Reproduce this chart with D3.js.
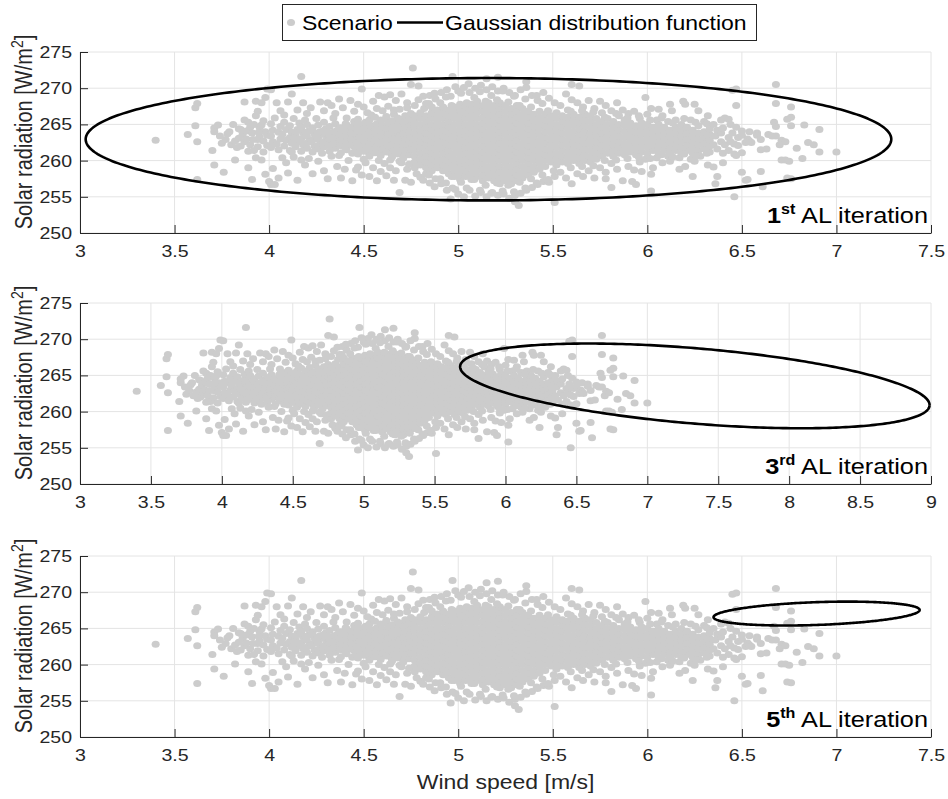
<!DOCTYPE html>
<html>
<head>
<meta charset="utf-8">
<script src="https://cdn.jsdelivr.net/npm/d3@7"></script>
<style>
  body { margin: 0; background: #fff; }
  svg { display: block; }
  text { font-family: "Liberation Sans", Arial, Helvetica, sans-serif; }
</style>
</head>
<body>
<svg id="chart" width="948" height="799"></svg>
<script>
// Scenario samples, grouped by wind speed [m/s]: [wind, [solar radiation W/m², ...]]
const scenarios = [
  [3.40,[262.8]],[3.57,[263.6]],[3.61,[267.3,264.8]],[3.62,[267.9,262.6,257.4]],
  [3.70,[261.4]],[3.71,[264.5,264.0,259.4]],[3.73,[264.9]],[3.74,[263.4]],[3.75,[262.4]],
  [3.76,[258.4]],[3.77,[262.9]],[3.78,[263.7]],[3.79,[264.0]],[3.80,[262.2]],[3.81,[265.0]],
  [3.82,[262.7,260.1]],[3.83,[261.8]],[3.84,[263.1,264.4]],[3.85,[264.3,262.0]],[3.86,[263.6]],
  [3.87,[268.1,262.6,265.6]],[3.88,[264.1,263.0]],[3.89,[265.3,261.3,259.0]],[3.90,[262.2,264.6]],
  [3.91,[257.4,263.8]],[3.92,[261.4,265.0]],[3.93,[268.2,266.2,260.4]],[3.94,[262.9,261.9,266.8]],
  [3.95,[264.6,263.3]],[3.96,[268.0,260.1,264.9]],[3.97,[265.5,262.7,261.2]],[3.98,[268.7,258.1,264.0]],
  [3.99,[262.1,263.5,269.9]],[4.00,[257.1]],[4.01,[256.7,261.8,263.4,265.1,269.8]],
  [3.915,[262.9]],[3.945,[263.9]],
  [4.02,[262.6,264.2,258.9]],[4.03,[265.9,256.7]],[4.04,[262.3,268.0]],[4.05,[261.5,263.9,257.6]],
  [4.06,[263.0,264.7,266.9]],[4.07,[263.6,260.4]],[4.08,[262.0,265.3,266.3]],[4.09,[262.8,264.3,259.7]],
  [4.10,[268.1,258.3]],[4.11,[261.4,263.2,264.8]],[4.12,[262.4,263.9,269.2,261.2]],[4.13,[265.8,260.5]],
  [4.14,[261.9,263.5]],[4.15,[262.7,264.3,267.0,257.3]],[4.16,[265.2]],[4.17,[261.3,263.0,264.6,271.6,260.1]],
  [4.18,[262.2,263.8,268.0]],[4.19,[259.4,265.6]],[4.20,[261.7,263.4,265.0,266.5]],[4.21,[262.6,264.1,260.3]],
  [4.22,[267.3]],[4.23,[261.2,262.9,264.5,258.2]],[4.24,[262.0,263.7]],[4.25,[265.8]],
  [4.26,[261.6,263.2,264.9,259.9]],[4.27,[262.4,264.0,268.1]],[4.28,[261.0]],
  [4.29,[261.9,263.6,265.3,266.9,258.6]],[4.30,[262.8,264.4]],[4.31,[268.0,257.5]],
  [4.32,[261.3,263.0,264.7]],[4.33,[262.2,263.8,267.6,260.6]],[4.34,[265.9]],
  [4.35,[261.7,263.4,265.1,266.5]],[4.36,[262.6,264.2,259.2]],[4.37,[268.5,260.7]],
  [4.38,[261.1,262.8,264.5,257.6]],[4.39,[262.0,263.6,267.3]],[4.40,[258.8]],
  [4.41,[261.5,263.2,264.9,265.9]],[4.42,[262.4,264.0,260.0]],[4.43,[268.3]],
  [4.44,[261.0,262.7,264.3,257.2]],[4.45,[261.9,263.5,265.4,266.8]],[4.46,[258.7]],
  [4.135,[263.1]],[4.165,[262.6,264.2]],
  [4.195,[262.3,263.9]],[4.225,[262.6,264.2]],[4.255,[263.0,263.8]],
  [4.285,[262.5,264.1]],[4.315,[262.1,263.7]],[4.345,[262.4,263.2,264.0]],
  [4.375,[262.1,262.9,263.7,264.5]],[4.405,[261.8,262.6,263.4,264.2,265.1]],[4.435,[262.2,263.0,263.8,264.6]],
  [4.465,[261.4,262.2,263.0,263.8,264.6]],[4.495,[261.8,262.6,263.4,264.2,265.0]],
  [4.525,[261.2,262.0,262.8,263.6,264.4,265.2]],[4.555,[261.6,262.4,263.2,264.0,264.8]],
  [4.585,[261.2,262.0,262.8,263.6,264.4,265.2]],[4.615,[261.6,262.4,263.2,264.0,264.8,265.7]],
  [4.645,[261.0,261.8,262.6,263.4,264.2,265.0]],[4.675,[261.4,262.2,263.0,263.8,264.6,265.4]],
  [4.705,[260.8,261.6,262.4,263.2,264.0,264.8,265.7]],[4.735,[261.2,262.0,262.8,263.6,264.4,265.2]],
  [4.47,[260.9,262.5,264.1,265.7,267.8,259.1]],[4.48,[261.7,263.3,264.9]],[4.49,[269.9,258.0]],
  [4.50,[261.3,262.9,264.5,267.4,260.2]],[4.51,[262.1,263.7,265.3,259.7]],[4.52,[266.6]],
  [4.53,[260.6,262.3,263.9,265.6,257.8]],[4.54,[261.5,263.1,264.7,266.3]],[4.55,[268.2,259.0]],
  [4.56,[261.1,262.7,264.3,266.0]],[4.57,[261.9,263.5,265.1,267.2,257.2]],[4.58,[269.0,260.0]],
  [4.59,[260.7,262.4,264.0,265.6,258.5]],[4.60,[261.6,263.2,264.8,266.9]],[4.61,[268.8,259.6]],
  [4.62,[261.2,262.8,264.4,266.1,257.9]],[4.63,[262.0,263.6,265.2,267.5]],[4.64,[269.1,259.0,260.1]],
  [4.65,[260.5,262.2,263.8,265.5]],[4.66,[261.4,263.0,264.6,266.4,267.0,257.3]],[4.67,[268.3,258.6]],
  [4.68,[260.9,262.6,264.2,265.9]],[4.69,[261.8,263.4,265.0,267.1,255.6,259.9]],[4.70,[269.2,259.7]],
  [4.71,[260.4,262.1,263.7,265.3]],[4.72,[261.3,262.9,264.5,266.2,257.3]],[4.73,[268.0,267.3,258.8]],
  [4.74,[260.8,262.4,264.0,265.7,259.5]],[4.75,[261.6,263.2,264.8,266.5,270.5,257.0]],[4.76,[272.8]],
  [4.77,[259.0,259.8,260.6,261.4,262.2,263.0,263.8,264.6,265.4,266.2,267.6]],[4.78,[258.2]],
  [4.79,[270.3,268.4]],
  [4.80,[259.4,260.2,261.0,261.8,262.6,263.4,264.2,265.0,265.8,266.6,257.7]],[4.82,[267.2]],
  [4.83,[259.0,259.8,260.6,261.4,262.2,263.0,263.8,264.6,265.4,266.2,267.9,258.2]],[4.85,[269.0,256.9]],
  [4.86,[258.6,259.4,260.2,261.0,261.8,262.6,263.4,264.2,265.0,265.8,266.6,267.4]],[4.88,[268.5,257.5]],
  [4.89,[259.0,259.8,260.6,261.4,262.2,263.0,263.8,264.6,265.4,266.2,267.0]],[4.91,[269.4,256.8]],
  [4.92,[258.6,259.4,260.2,261.0,261.8,262.6,263.4,264.2,265.0,265.8,266.6,267.4]],[4.94,[269.8,255.9]],
  [4.95,[258.2,259.0,259.8,260.6,261.4,262.2,263.0,263.8,264.6,265.4,266.2,267.0]],
  [4.96,[254.7,268.9]],[4.97,[271.6,256.2]],
  [4.98,[257.8,258.6,259.4,260.2,261.0,261.8,262.6,263.4,264.2,265.0,265.8,266.6,267.4]],
  [5.00,[269.6,255.4]],
  [5.01,[257.4,258.2,259.0,259.8,260.6,261.4,262.2,263.0,263.8,264.6,265.4,266.2,267.0,267.8]],
  [5.03,[270.1,255.0]],
  [5.04,[257.8,258.6,259.4,260.2,261.0,261.8,262.6,263.4,264.2,265.0,265.8,266.6,267.4]],
  [5.06,[269.4,255.9]],
  [5.07,[257.4,258.2,259.0,259.8,260.6,261.4,262.2,263.0,263.8,264.6,265.4,266.2,267.0,267.8]],
  [5.09,[270.0,255.1]],
  [5.10,[257.8,258.6,259.4,260.2,261.0,261.8,262.6,263.4,264.2,265.0,265.8,266.6,267.4,268.2]],
  [5.12,[270.4,255.6]],
  [5.13,[257.2,258.0,258.8,259.6,260.4,261.2,262.0,262.8,263.6,264.4,265.2,266.0,266.8,267.6]],
  [5.15,[269.8,255.0,271.3]],
  [5.16,[257.6,258.4,259.2,260.0,260.8,261.6,262.4,263.2,264.0,264.8,265.6,266.4,267.2,268.0]],
  [5.18,[270.2,255.6]],
  [5.19,[257.2,258.0,258.8,259.6,260.4,261.2,262.0,262.8,263.6,264.4,265.2,266.0,266.8,267.6]],
  [5.21,[271.5,269.6,255.2]],
  [5.22,[256.8,257.6,258.4,259.2,260.0,260.8,261.6,262.4,263.2,264.0,264.8,265.6,266.4,267.2,268.0]],
  [5.24,[270.0,255.4]],
  [5.25,[257.2,258.0,258.8,259.6,260.4,261.2,262.0,262.8,263.6,264.4,265.2,266.0,266.8,267.6]],
  [5.27,[269.4,254.8]],
  [5.28,[256.8,257.6,258.4,259.2,260.0,260.8,261.6,262.4,263.2,264.0,264.8,265.6,266.4,267.2]],
  [5.30,[269.0,255.2,254.3]],
  [5.31,[257.2,258.0,258.8,259.6,260.4,261.2,262.0,262.8,263.6,264.4,265.2,266.0,266.8,267.6]],
  [5.32,[253.8]],[5.33,[269.8,255.5]],
  [5.34,[257.6,258.4,259.2,260.0,260.8,261.6,262.4,263.2,264.0,264.8,265.6,266.4,267.2]],
  [5.36,[270.9,270.1,255.9]],
  [5.37,[258.0,258.8,259.6,260.4,261.2,262.0,262.8,263.6,264.4,265.2,266.0,266.8]],
  [5.39,[269.0,256.3]],
  [5.40,[258.4,259.2,260.0,260.8,261.6,262.4,263.2,264.0,264.8,265.6,266.4]],
  [5.42,[268.3,256.7]],
  [5.43,[258.8,259.6,260.4,261.2,262.0,262.8,263.6,264.4,265.2,266.0,266.8]],
  [5.45,[269.4,257.1]],
  [5.46,[259.2,260.0,260.8,261.6,262.4,263.2,264.0,264.8,265.6,266.4]],
  [5.48,[268.6,257.0]],
  [5.49,[259.8,260.6,261.4,262.2,263.0,263.8,264.6,265.4,266.2]],
  [5.51,[254.2,268.0,257.8]],
  [5.52,[259.4,260.2,261.0,261.8,262.6,263.4,264.2,265.0,265.8,266.6]],
  [5.54,[267.6,258.4]],
  [5.55,[259.8,260.6,261.4,262.2,263.0,263.8,264.6,265.4,266.2]],
  [4.815,[268.9,257.3]],[4.845,[267.9,258.0]],[4.875,[269.3,256.4]],[4.905,[268.0,257.5]],
  [4.935,[268.8,256.9]],[4.965,[267.6,257.8]],[4.985,[270.2,256.0]],[5.015,[269.3,257.0]],
  [5.045,[268.0,256.2]],[5.055,[270.6]],[5.085,[268.7,257.4]],[5.115,[269.5,255.9]],
  [5.145,[268.2,256.6]],[5.175,[269.0,255.5]],[5.205,[268.4,256.9]],[5.235,[269.6,255.8]],
  [5.265,[268.1,256.6]],[5.295,[268.9,255.7]],[5.325,[267.6,257.0]],[5.355,[268.5,256.2]],
  [5.385,[267.4,257.5]],[5.415,[269.0,256.9]],[5.445,[267.9,258.0]],[5.475,[266.9,257.4]],
  [5.505,[258.6]],
  [5.57,[269.2,257.6]],
  [5.58,[259.6,260.4,261.2,262.0,262.8,263.6,264.4,265.2,266.0,267.0]],
  [5.60,[270.5,268.4,256.8]],
  [5.61,[260.0,260.8,261.6,262.4,263.2,264.0,264.8,265.6,266.4]],
  [5.63,[268.0,258.2]],
  [5.64,[270.3,259.6,260.4,261.2,262.0,262.8,263.6,264.4,265.2,266.0]],
  [5.66,[267.4,257.8]],
  [5.67,[260.0,260.8,261.6,262.4,263.2,264.0,264.8,265.6,266.4]],
  [5.69,[268.3,258.6]],
  [5.70,[259.8,260.6,261.4,262.2,263.0,263.8,264.6,265.4,266.2]],
  [5.72,[267.2,257.6]],
  [5.73,[260.2,261.0,261.8,262.6,263.4,264.2,265.0,265.8]],
  [5.75,[268.2,259.0]],
  [5.76,[260.6,261.4,262.2,263.0,263.8,264.6,265.4,266.6]],
  [5.78,[267.6,257.5,258.4]],
  [5.79,[261.0,261.8,262.6,263.4,264.2,265.0,265.8]],
  [5.81,[266.9,256.3,259.6]],
  [5.82,[260.6,261.4,262.2,263.0,263.8,264.6,265.4]],
  [5.84,[268.0,258.8]],
  [5.85,[261.0,261.8,262.6,263.4,264.2,265.0,266.2]],
  [5.87,[257.2,267.0]],
  [5.88,[260.8,261.6,262.4,263.2,264.0,264.8,265.6]],
  [5.90,[266.5,259.2]],
  [5.91,[261.2,262.0,262.8,263.6,264.4,265.2]],
  [5.92,[257.1]],[5.93,[258.7,266.8]],
  [5.94,[260.8,261.6,262.4,263.2,264.0,264.8,256.7]],
  [5.96,[265.8,259.8]],
  [5.97,[261.2,262.0,262.8,263.6,264.4,265.2,258.5]],
  [5.99,[268.7,260.2]],
  [6.00,[261.0,261.8,262.6,263.4,264.2,265.0,266.4]],
  [6.02,[258.1,255.8,267.2]],
  [6.03,[261.4,262.2,263.0,263.8,264.6,259.0]],
  [6.05,[265.6,260.4]],
  [6.06,[261.0,261.8,262.6,263.4,264.2,265.0,267.1]],
  [6.08,[259.7,266.2]],
  [6.09,[261.4,262.2,263.0,263.8,264.6]],
  [6.11,[265.4,260.6]],
  [6.12,[261.0,261.8,262.6,263.4,264.2,267.8,259.9]],
  [6.13,[266.9]],
  [6.15,[261.4,262.2,263.0,263.8,264.6,265.6]],
  [6.17,[260.4,258.8]],
  [6.18,[261.0,261.8,262.6,263.4,264.2,265.0]],
  [6.19,[268.2]],[6.20,[267.8,259.2]],
  [6.21,[261.4,262.2,263.0,263.8,264.6]],
  [6.23,[265.6,260.2]],
  [6.24,[261.0,261.8,262.6,263.4,264.2,257.8]],
  [6.25,[267.8,259.9]],
  [6.27,[261.4,262.2,263.0,263.8,264.8,266.9]],
  [6.28,[260.6]],
  [6.30,[261.6,262.4,263.2,264.0,265.4]],
  [6.32,[259.4,266.2]],
  [6.33,[261.2,262.0,262.8,263.6,264.4]],
  [5.595,[266.8,259.0]],[5.655,[266.9,259.2]],[5.715,[266.7,259.3]],[5.775,[266.0,260.0]],
  [5.835,[266.5,260.1]],[5.895,[265.9,260.3]],[5.955,[266.2,260.5]],[6.015,[265.6,260.3]],
  [6.075,[265.9,260.8]],[6.135,[265.2,260.5]],[6.195,[265.8,260.9]],[6.255,[265.3,260.7]],
  [6.315,[265.1,261.0]],
  [6.35,[259.1,262.2,265.0]],[6.36,[256.8,263.4]],[6.37,[257.8,261.6,264.2]],
  [6.39,[262.6,263.8,265.6]],[6.40,[259.7,261.0,264.5]],[6.41,[265.9,262.2]],
  [6.43,[263.2,265.7,261.4]],[6.44,[265.0,262.6]],[6.45,[269.7,263.8]],
  [6.46,[255.0,262.3,260.9]],[6.47,[269.9,267.6,264.6,260.7]],[6.48,[262.1,263.2]],
  [6.50,[264.1,261.1,258.4,263.5]],[6.52,[257.3,262.5]],[6.53,[257.4,263.0]],
  [6.54,[262.7,264.0]],[6.55,[262.5]],[6.58,[263.8,263.5]],[6.60,[261.5,262.9,258.5]],
  [6.61,[256.4]],[6.63,[261.6]],[6.64,[263.6]],[6.66,[263.4]],[6.67,[265.3]],
  [6.68,[270.5,267.9,264.7,263.4]],[6.70,[262.2]],[6.71,[262.8,260.1]],[6.73,[262.6,260.1]],
  [6.74,[265.7,257.6]],[6.75,[259.9]],[6.76,[267.4,266.0,264.8,257.5]],[6.79,[261.7]],
  [6.82,[260.3]],[6.83,[264.9]],[6.85,[262.5]],[6.88,[262.2]],[6.91,[264.3,261.2]],
  [7.00,[261.2]]
];

// One panel per active-learning iteration
const iterationNumber = ["1", "3", "5"];
const iterationSuffix = ["st", "rd", "th"];
const windMax = [7.5, 9, 7.5];

// Gaussian distribution fitted at each iteration (contour shown as an ellipse)
const gaussMeanWind   = [5.16, 7.335, 6.895];
const gaussMeanSolar  = [262.95, 263.55, 267.05];
const gaussSpreadWind = [2.13, 1.655, 0.545];
const gaussSpreadSolar= [8.45, 5.85, 1.65];
const gaussCorrelation= [0.0, -0.453, 0.30];

// Tick labels
const windTicks75 = [3, 3.5, 4, 4.5, 5, 5.5, 6, 6.5, 7, 7.5];
const windTicks9  = [3, 3.5, 4, 4.5, 5, 5.5, 6, 6.5, 7, 7.5, 8, 8.5, 9];
const solarTicks  = [250, 255, 260, 265, 270, 275];

const svg = d3.select("#chart");
const left = 80, right = 931, panelH = 181;
const panelTops = [52, 303, 556];
const wide = 1.15;          // horizontal aspect of the exported figure
const markRy = 3.5, markRx = markRy * wide;
const gray = "#cccccc";
const axisColor = "#262626";

const points = scenarios.flatMap(([w, list]) => list.map(s => [w, s]));

// text placed at (x, y), widened horizontally
function label(parent, x, y, size, extra = "") {
  return parent.append("text")
    .attr("transform", `translate(${x},${y}) scale(${wide},1)${extra}`)
    .style("font-size", size + "px");
}

panelTops.forEach((top, i) => {
  const x = d3.scaleLinear().domain([3, windMax[i]]).range([left, right]);
  const y = d3.scaleLinear().domain([250, 275]).range([top + panelH, top]);
  const xt = windMax[i] === 9 ? windTicks9 : windTicks75;
  const g = svg.append("g");

  // grid
  g.append("g").selectAll("line").data(xt).join("line")
    .attr("x1", d => x(d)).attr("x2", d => x(d))
    .attr("y1", top).attr("y2", top + panelH)
    .attr("stroke", "#e4e4e4").attr("stroke-width", 1);
  g.append("g").selectAll("line").data(solarTicks).join("line")
    .attr("x1", left).attr("x2", right)
    .attr("y1", d => y(d)).attr("y2", d => y(d))
    .attr("stroke", "#e4e4e4").attr("stroke-width", 1);

  // scenarios
  g.append("g").selectAll("ellipse").data(points).join("ellipse")
    .attr("cx", d => x(d[0])).attr("cy", d => y(d[1]))
    .attr("rx", markRx).attr("ry", markRy).attr("fill", gray);

  // Gaussian contour
  const mw = gaussMeanWind[i], ms = gaussMeanSolar[i];
  const sw = gaussSpreadWind[i], ss = gaussSpreadSolar[i], rho = gaussCorrelation[i];
  const angles = d3.range(0, 2 * Math.PI + 0.001, Math.PI / 180);
  const contour = angles.map(t => [
    mw + sw * Math.cos(t),
    ms + ss * (rho * Math.cos(t) - Math.sqrt(1 - rho * rho) * Math.sin(t))
  ]);
  g.append("path")
    .attr("d", d3.line().x(d => x(d[0])).y(d => y(d[1]))(contour))
    .attr("fill", "none").attr("stroke", "#000").attr("stroke-width", 2.6);

  // axes
  const xAxis = d3.axisBottom(x).tickValues(xt).tickFormat(d3.format("")).tickSizeInner(-8).tickSizeOuter(0).tickPadding(12);
  const yAxis = d3.axisLeft(y).tickValues(solarTicks).tickSizeInner(-8).tickSizeOuter(0).tickPadding(8);
  const gx = g.append("g").attr("transform", `translate(0,${top + panelH})`).call(xAxis);
  const gy = g.append("g").attr("transform", `translate(${left},0)`).call(yAxis);
  [gx, gy].forEach(a => {
    a.selectAll("path,line").attr("stroke", axisColor);
    a.selectAll("text").attr("fill", axisColor).style("font-size", "17px")
      .attr("transform", `scale(${wide},1)`);
  });
  gy.selectAll("text").attr("x", -8 / wide);

  // y label
  const yl = label(g, 32, top + 80, 20, " rotate(-90)")
    .attr("text-anchor", "middle").attr("fill", axisColor);
  yl.append("tspan").text("Solar radiation [W/m");
  yl.append("tspan").text("2").attr("dy", -8).style("font-size", "14px");
  yl.append("tspan").text("]").attr("dy", 8);

  // iteration annotation
  const an = label(g, 928, top + panelH - 10, 22).attr("text-anchor", "end").attr("fill", "#000");
  an.append("tspan").text(iterationNumber[i]).style("font-weight", "bold");
  an.append("tspan").text(iterationSuffix[i]).style("font-weight", "bold").style("font-size", "14px").attr("dy", -9);
  an.append("tspan").text(" AL iteration").attr("dy", 9);
});

// x label
label(svg, (left + right) / 2, 789, 20).attr("text-anchor", "middle").attr("fill", axisColor)
  .text("Wind speed [m/s]");

// legend
const lg = svg.append("g");
lg.append("rect").attr("x", 282.5).attr("y", 4.5).attr("width", 474).attr("height", 36)
  .attr("fill", "#fff").attr("stroke", axisColor).attr("stroke-width", 1);
lg.append("ellipse").attr("cx", 291).attr("cy", 22.5).attr("rx", markRx).attr("ry", markRy).attr("fill", gray);
label(lg, 302, 29.5, 20).attr("fill", "#000").text("Scenario");
lg.append("line").attr("x1", 397).attr("x2", 443).attr("y1", 22.5).attr("y2", 22.5)
  .attr("stroke", "#000").attr("stroke-width", 2.6);
label(lg, 445, 29.5, 20).attr("fill", "#000").text("Gaussian distribution function");
</script>
</body>
</html>
